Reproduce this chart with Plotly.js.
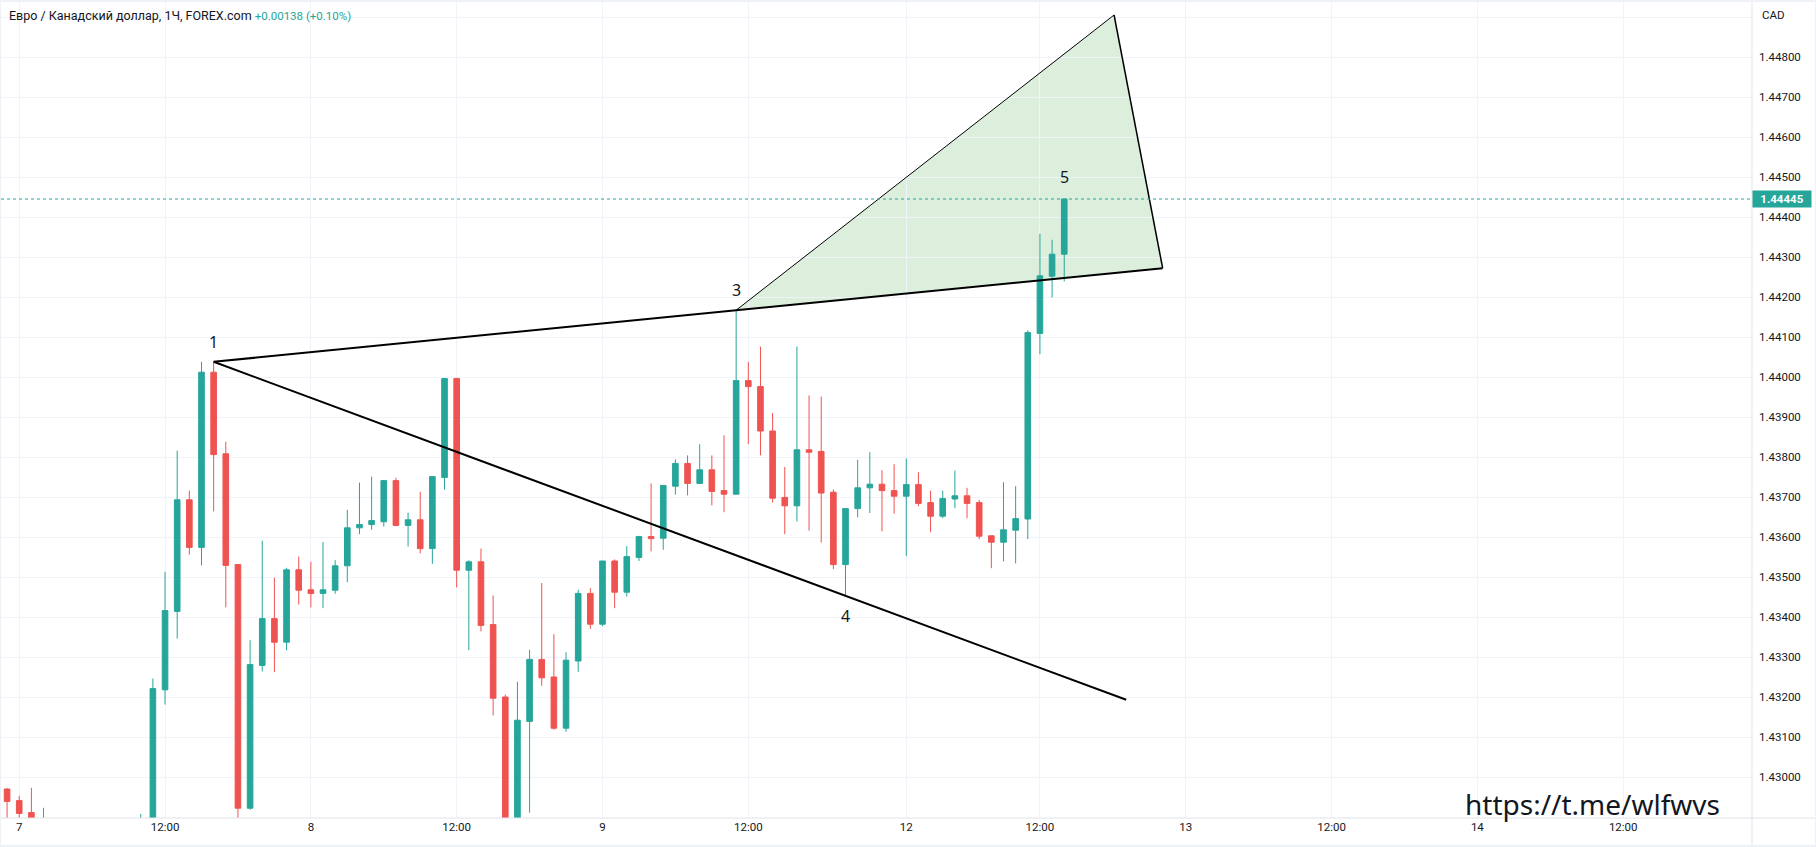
<!DOCTYPE html>
<html>
<head>
<meta charset="utf-8">
<script src="https://cdn.plot.ly/plotly-3.0.1.min.js"></script>
<style>
  html, body { margin: 0; padding: 0; background: #ffffff; }
  #wrap { position: relative; width: 1816px; height: 847px; }
  #chart { width: 1816px; height: 847px; }
  #frame { position: absolute; left: 0; top: 0; width: 1816px; height: 847px; box-sizing: border-box;
           border-style: solid; border-color: #eef1f6; border-width: 2px 1px 2px 1px; pointer-events: none; }
</style>
</head>
<body>
<div id="wrap"><div id="chart"></div><div id="frame"></div></div>
<script>
// ---- Data: EUR/CAD 1H candles (first bar = day 6, 23:00) ----
const firstSlot = -1;
const open = [
  1.42970, 1.42941, 1.42911, 1.42830, 1.42860, 1.42780, 1.42740, 1.42770, 1.42750, 1.42700,
  1.42760, 1.42820, 1.42860, 1.43218, 1.43414, 1.43693, 1.43574, 1.44012, 1.43808, 1.43531,
  1.42922, 1.43279, 1.43396, 1.43337, 1.43518, 1.43468, 1.43459, 1.43467, 1.43528, 1.43623,
  1.43631, 1.43638, 1.43741, 1.43629, 1.43643, 1.43571, 1.43749, 1.43996, 1.43517, 1.43538,
  1.43381, 1.43200, 1.42840, 1.43139, 1.43294, 1.43250, 1.43122, 1.43290, 1.43459, 1.43382,
  1.43540, 1.43462, 1.43549, 1.43601, 1.43597, 1.43727, 1.43784, 1.43734, 1.43768, 1.43716,
  1.43707, 1.43991, 1.43976, 1.43865, 1.43699, 1.43678, 1.43818, 1.43814, 1.43712, 1.43531,
  1.43671, 1.43723, 1.43732, 1.43716, 1.43702, 1.43731, 1.43686, 1.43652, 1.43695, 1.43703,
  1.43686, 1.43603, 1.43587, 1.43617, 1.43645, 1.44109, 1.44252, 1.44307
];
const high = [
  1.42972, 1.42953, 1.42973, 1.42923, 1.42880, 1.42840, 1.42800, 1.42830, 1.42810, 1.42790,
  1.42850, 1.42908, 1.43246, 1.43513, 1.43816, 1.43716, 1.44038, 1.44038, 1.43838, 1.43531,
  1.43342, 1.43591, 1.43498, 1.43523, 1.43551, 1.43538, 1.43588, 1.43542, 1.43668, 1.43736,
  1.43751, 1.43741, 1.43748, 1.43661, 1.43713, 1.43751, 1.43998, 1.43998, 1.43542, 1.43571,
  1.43454, 1.43206, 1.43238, 1.43318, 1.43485, 1.43357, 1.43312, 1.43468, 1.43472, 1.43540,
  1.43544, 1.43577, 1.43603, 1.43734, 1.43729, 1.43794, 1.43804, 1.43832, 1.43804, 1.43854,
  1.44167, 1.44038, 1.44076, 1.43910, 1.43775, 1.44076, 1.43954, 1.43951, 1.43719, 1.43671,
  1.43793, 1.43812, 1.43767, 1.43782, 1.43796, 1.43762, 1.43716, 1.43716, 1.43766, 1.43723,
  1.43693, 1.43603, 1.43737, 1.43727, 1.44117, 1.44358, 1.44343, 1.44445
];
const low = [
  1.42850, 1.42860, 1.42800, 1.42790, 1.42750, 1.42700, 1.42680, 1.42720, 1.42660, 1.42650,
  1.42720, 1.42780, 1.42830, 1.43181, 1.43346, 1.43556, 1.43529, 1.43664, 1.43424, 1.42880,
  1.42918, 1.43264, 1.43262, 1.43317, 1.43431, 1.43424, 1.43422, 1.43458, 1.43487, 1.43607,
  1.43618, 1.43626, 1.43627, 1.43576, 1.43559, 1.43533, 1.43718, 1.43474, 1.43317, 1.43364,
  1.43154, 1.42800, 1.42810, 1.42911, 1.43228, 1.43118, 1.43113, 1.43263, 1.43370, 1.43377,
  1.43422, 1.43451, 1.43540, 1.43564, 1.43568, 1.43706, 1.43704, 1.43734, 1.43679, 1.43662,
  1.43707, 1.43832, 1.43804, 1.43686, 1.43607, 1.43639, 1.43616, 1.43586, 1.43520, 1.43455,
  1.43649, 1.43660, 1.43614, 1.43658, 1.43552, 1.43677, 1.43612, 1.43647, 1.43672, 1.43647,
  1.43595, 1.43522, 1.43539, 1.43534, 1.43595, 1.44057, 1.44199, 1.44239
];
const close = [
  1.42939, 1.42909, 1.42830, 1.42860, 1.42780, 1.42740, 1.42770, 1.42750, 1.42700, 1.42760,
  1.42820, 1.42860, 1.43221, 1.43416, 1.43693, 1.43574, 1.44012, 1.43806, 1.43529, 1.42922,
  1.43281, 1.43396, 1.43337, 1.43518, 1.43467, 1.43459, 1.43468, 1.43528, 1.43623, 1.43631,
  1.43641, 1.43741, 1.43629, 1.43643, 1.43571, 1.43751, 1.43996, 1.43517, 1.43538, 1.43379,
  1.43197, 1.42840, 1.43142, 1.43294, 1.43248, 1.43122, 1.43292, 1.43459, 1.43382, 1.43540,
  1.43462, 1.43551, 1.43601, 1.43596, 1.43729, 1.43784, 1.43734, 1.43768, 1.43714, 1.43707,
  1.43991, 1.43976, 1.43865, 1.43697, 1.43678, 1.43818, 1.43812, 1.43710, 1.43531, 1.43671,
  1.43723, 1.43732, 1.43716, 1.43702, 1.43731, 1.43684, 1.43652, 1.43696, 1.43703, 1.43684,
  1.43602, 1.43587, 1.43618, 1.43646, 1.44111, 1.44253, 1.44307, 1.44445
];

// ---- Axis ticks ----
const timeTickSlots  = [0, 12, 24, 36, 48, 60, 73, 84, 96, 108, 120, 132];
const timeTickLabels = ["7", "12:00", "8", "12:00", "9", "12:00", "12", "12:00", "13", "12:00", "14", "12:00"];
const priceTicks = [1.430, 1.431, 1.432, 1.433, 1.434, 1.435, 1.436, 1.437, 1.438, 1.439,
                    1.440, 1.441, 1.442, 1.443, 1.444, 1.445, 1.446, 1.447, 1.448, 1.449];
const priceTickLabels = ["1.43000", "1.43100", "1.43200", "1.43300", "1.43400", "1.43500", "1.43600",
                         "1.43700", "1.43800", "1.43900", "1.44000", "1.44100", "1.44200", "1.44300",
                         "1.44400", "1.44500", "1.44600", "1.44700", "1.44800", ""];

// ---- Texts ----
const titleText = "Евро / Канадский доллар, 1Ч, FOREX.com";
const changeText = "+0.00138 (+0.10%)";
const currencyText = "CAD";
const lastPrice = 1.44445;
const lastPriceText = "1.44445";
const watermarkText = "https://t.me/wlfwvs";

// ---- Wolfe wave drawing anchors (bar slot, price) ----
const waveLabels = ["1", "3", "4", "5"];
const waveSlots  = [16, 59, 68, 86];
const wavePrices = [1.44038, 1.44167, 1.43455, 1.44445];
const targetSlots  = [59, 90.1, 94.1];      // point 3, apex, right vertex
const targetPrices = [1.44167, 1.44905, 1.44272];
const line14EndSlot = 91.1;
const line14EndPrice = 1.43193;

// ---- Build ----
const UP = '#26a69a', DOWN = '#ef5350', TXT = '#131722', GRID = '#f0f3fa', SEP = '#e0e3eb';
const FONT = 'Roboto, "Noto Sans", sans-serif';
const slots = open.map((_, i) => i + firstSlot);

const candles = {
  type: 'candlestick',
  x: slots, open: open, high: high, low: low, close: close,
  increasing: { line: { color: UP, width: 1 }, fillcolor: UP },
  decreasing: { line: { color: DOWN, width: 1 }, fillcolor: DOWN },
  whiskerwidth: 0,
  hoverinfo: 'skip'
};

const shapes = [];
shapes.push({
  type: 'path', xref: 'x', yref: 'y', layer: 'below',
  path: 'M ' + targetSlots[0] + ',' + targetPrices[0] +
        ' L ' + targetSlots[1] + ',' + targetPrices[1] +
        ' L ' + targetSlots[2] + ',' + targetPrices[2] + ' Z',
  fillcolor: 'rgba(76,175,80,0.2)', line: { width: 0 }
});
shapes.push({ type: 'line', xref: 'x', yref: 'y', x0: waveSlots[0], y0: wavePrices[0],
  x1: targetSlots[2], y1: targetPrices[2], line: { color: '#000000', width: 2 } });
shapes.push({ type: 'line', xref: 'x', yref: 'y', x0: waveSlots[0], y0: wavePrices[0],
  x1: line14EndSlot, y1: line14EndPrice, line: { color: '#000000', width: 2 } });
shapes.push({ type: 'line', xref: 'x', yref: 'y', x0: targetSlots[0], y0: targetPrices[0],
  x1: targetSlots[1], y1: targetPrices[1], line: { color: '#000000', width: 1 } });
shapes.push({ type: 'line', xref: 'x', yref: 'y', x0: targetSlots[1], y0: targetPrices[1],
  x1: targetSlots[2], y1: targetPrices[2], line: { color: '#000000', width: 1.5 } });
shapes.push({ type: 'line', xref: 'paper', yref: 'y', x0: 0, x1: 1, y0: lastPrice, y1: lastPrice,
  line: { color: UP, width: 1, dash: 'dot' } });
shapes.push({ type: 'line', xref: 'paper', yref: 'paper', x0: -0.001, x1: 1.04, y0: 0, y1: 0,
  line: { color: SEP, width: 1 } });
shapes.push({ type: 'line', xref: 'paper', yref: 'paper', x0: 1, x1: 1, y0: -0.04, y1: 1.003,
  line: { color: SEP, width: 1 } });

const labelShifts = [20, 20, -21, 22];
const annotations = waveLabels.map((t, i) => ({
  text: t, x: waveSlots[i], y: wavePrices[i], xref: 'x', yref: 'y',
  showarrow: false, yshift: labelShifts[i], xanchor: 'center', yanchor: 'middle',
  font: { family: '"Noto Sans", sans-serif', size: 16, color: TXT }
}));
annotations.push({
  text: currencyText, xref: 'paper', yref: 'paper', x: 1, y: 1, xanchor: 'left', yanchor: 'middle',
  xshift: 8, yshift: -13, showarrow: false, font: { family: FONT, size: 11.5, color: TXT }
});
annotations.push({
  text: '<b>' + lastPriceText + '</b>', xref: 'paper', yref: 'y', x: 1, y: lastPrice,
  xanchor: 'left', yanchor: 'middle', showarrow: false, bgcolor: UP, borderpad: 3,
  width: 52, height: 10, align: 'center', font: { family: FONT, size: 11.5, color: '#ffffff' }
});
annotations.push({
  text: watermarkText, xref: 'paper', yref: 'paper', x: 0.9829, y: 0.0172,
  xanchor: 'right', yanchor: 'middle', showarrow: false,
  font: { family: '"Noto Sans", sans-serif', size: 28, color: '#131722' }
});

const layout = {
  width: 1816, height: 847,
  margin: { l: 1, r: 64, t: 2, b: 29 },
  paper_bgcolor: '#ffffff', plot_bgcolor: '#ffffff',
  showlegend: false,
  boxgap: 0.34,
  title: {
    text: titleText + '&nbsp;<span style="color:' + UP + ';font-size:11.5px">' + changeText + '</span>',
    xref: 'container', yref: 'container', x: 9 / 1816, y: 1 - 15.5 / 847,
    xanchor: 'left', yanchor: 'middle',
    font: { family: FONT, size: 12.5, color: TXT }
  },
  xaxis: {
    range: [-1.5, 142.6], tickmode: 'array', tickvals: timeTickSlots, ticktext: timeTickLabels,
    showgrid: true, gridcolor: GRID, gridwidth: 1, zeroline: false, showline: false, ticks: '',
    tickfont: { family: FONT, size: 11.5, color: TXT },
    rangeslider: { visible: false }, fixedrange: true
  },
  yaxis: {
    side: 'right', range: [1.428975, 1.449375], tickmode: 'array',
    tickvals: priceTicks, ticktext: priceTickLabels,
    showgrid: true, gridcolor: GRID, gridwidth: 1, zeroline: false, showline: false, ticks: '',
    ticklabelstandoff: 6,
    tickfont: { family: FONT, size: 11.5, color: TXT }, fixedrange: true
  },
  shapes: shapes,
  annotations: annotations
};

Plotly.newPlot('chart', [candles], layout, { displayModeBar: false, staticPlot: true });
</script>
</body>
</html>
